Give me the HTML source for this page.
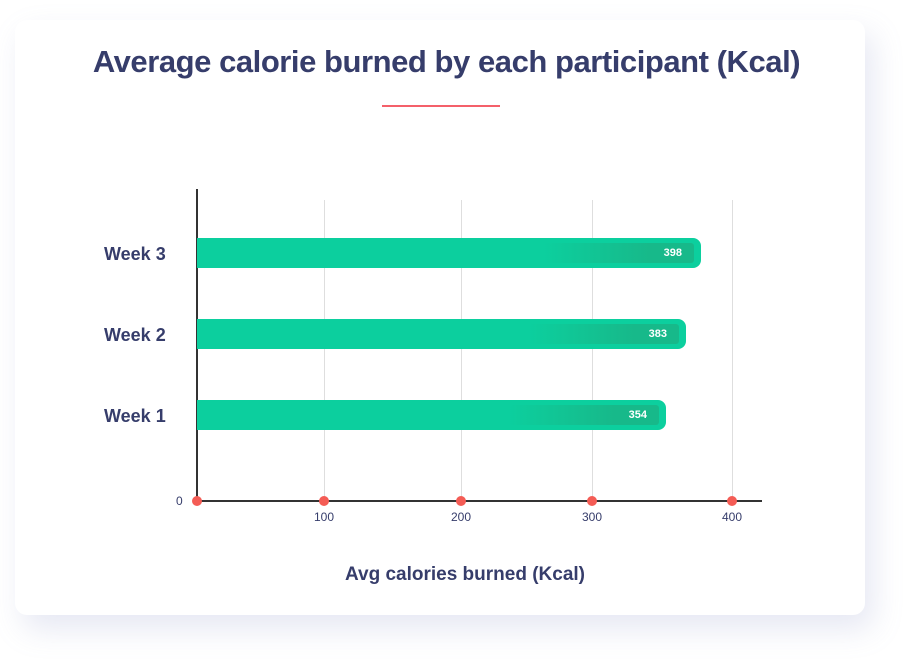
<!DOCTYPE html>
<html><head><style>
body{margin:0;width:917px;height:668px;background:#fff;font-family:"Liberation Sans",sans-serif;position:relative;overflow:hidden}
.card{position:absolute;left:15px;top:20px;width:850px;height:595px;background:#fff;border-radius:12px;box-shadow:8px 14px 30px rgba(140,150,200,0.22)}
.t{position:absolute;left:0;width:893px;top:44px;text-align:center;font-size:31px;font-weight:bold;color:#363d6b;letter-spacing:-0.45px}
.red{position:absolute;left:382px;top:105px;width:118px;height:2px;background:#f4606a}
.grid{position:absolute;top:200px;height:301px;width:1px;background:#dedede}
.bar{position:absolute;left:197px;height:30px;background:#0ccf9e;border-radius:0 8px 8px 0}
.in{position:absolute;right:7px;top:5px;height:20px;border-radius:3px;background:linear-gradient(90deg,rgba(20,180,130,0),#17b98a 70%);color:#fff;font-size:11px;font-weight:bold;text-align:right;line-height:20px;padding-right:12px;box-sizing:border-box}
.yl{position:absolute;left:104px;font-size:18px;font-weight:bold;color:#363d6b}
.xl{position:absolute;top:510px;font-size:12px;color:#363d6b;width:40px;text-align:center}
.dot{position:absolute;top:496px;width:10px;height:10px;border-radius:50%;background:#f45c55}
</style></head><body>
<div class="card"></div>
<div class="t">Average calorie burned by each participant (Kcal)</div>
<div class="red"></div>
<div class="grid" style="left:324px"></div>
<div class="grid" style="left:461px"></div>
<div class="grid" style="left:592px"></div>
<div class="grid" style="left:732px"></div>
<div style="position:absolute;left:196px;top:189px;width:2px;height:313px;background:#333"></div>
<div style="position:absolute;left:196px;top:500px;width:566px;height:2px;background:#333"></div>
<div class="bar" style="top:238px;width:504px"><div class="in" style="width:150px">398</div></div>
<div class="bar" style="top:319px;width:489px"><div class="in" style="width:150px">383</div></div>
<div class="bar" style="top:400px;width:469px"><div class="in" style="width:150px">354</div></div>
<div class="yl" style="top:244px">Week 3</div>
<div class="yl" style="top:325px">Week 2</div>
<div class="yl" style="top:406px">Week 1</div>
<div class="dot" style="left:192px"></div>
<div class="dot" style="left:319px"></div>
<div class="dot" style="left:456px"></div>
<div class="dot" style="left:587px"></div>
<div class="dot" style="left:727px"></div>
<div style="position:absolute;left:176px;top:494px;font-size:12px;color:#363d6b">0</div>
<div class="xl" style="left:304px">100</div>
<div class="xl" style="left:441px">200</div>
<div class="xl" style="left:572px">300</div>
<div class="xl" style="left:712px">400</div>
<div style="position:absolute;left:0;width:930px;top:564px;text-align:center;font-size:19px;font-weight:bold;color:#363d6b">Avg calories burned (Kcal)</div>
</body></html>
